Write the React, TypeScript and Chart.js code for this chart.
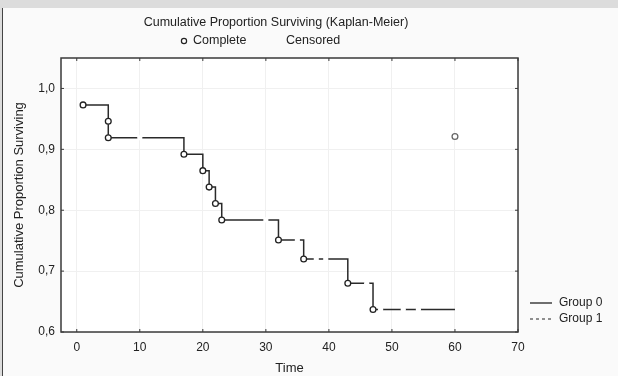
import React, { useEffect, useRef } from "react";
import { Chart, registerables } from "chart.js";

Chart.register(...registerables);

// Kaplan-Meier step curve (Group 0)
const STEP_TIMES = [1, 5, 5, 17, 20, 21, 22, 23, 32, 36, 43, 47, 60];
const STEP_SURV = [0.973, 0.946, 0.919, 0.892, 0.865, 0.838, 0.811, 0.784, 0.751, 0.72, 0.68, 0.637, 0.637];

// Complete (event) markers
const COMPLETE_TIMES = [1, 5, 5, 17, 20, 21, 22, 23, 32, 36, 43, 47];
const COMPLETE_SURV = [0.973, 0.946, 0.919, 0.892, 0.865, 0.838, 0.811, 0.784, 0.751, 0.72, 0.68, 0.637];

// Censored markers (drawn white)
const CENSORED_TIMES = [10, 30, 35, 38, 39.5, 46, 48.2, 51.8, 54.2];
const CENSORED_SURV = [0.919, 0.784, 0.751, 0.72, 0.72, 0.68, 0.637, 0.637, 0.637];

// Group 1
const GROUP1_TIMES = [60];
const GROUP1_SURV = [0.921];

const X_TICKS = [0, 10, 20, 30, 40, 50, 60, 70];
const Y_TICKS = [0.6, 0.7, 0.8, 0.9, 1.0];

const TITLE = "Cumulative Proportion Surviving (Kaplan-Meier)";
const FONT = "'Liberation Sans', Arial, sans-serif";

const zip = (xs: number[], ys: number[]) => xs.map((x, i) => ({ x, y: ys[i] }));

const decorPlugin = {
  id: "decor",
  beforeDraw(chart: any) {
    const { ctx, chartArea: a } = chart;
    ctx.save();
    ctx.fillStyle = "#ffffff";
    ctx.fillRect(a.left, a.top, a.right - a.left, a.bottom - a.top);
    ctx.restore();
  },
  afterDatasetsDraw(chart: any) {
    const { ctx, chartArea: a, scales } = chart;
    ctx.save();
    // frame
    ctx.strokeStyle = "#3a3a3a";
    ctx.lineWidth = 1.5;
    ctx.strokeRect(a.left, a.top, a.right - a.left, a.bottom - a.top);
    // inward ticks
    ctx.lineWidth = 1;
    ctx.beginPath();
    X_TICKS.forEach((v) => {
      const px = scales.x.getPixelForValue(v);
      ctx.moveTo(px, a.bottom);
      ctx.lineTo(px, a.bottom - 3);
      ctx.moveTo(px, a.top);
      ctx.lineTo(px, a.top + 3);
    });
    Y_TICKS.forEach((v) => {
      const py = scales.y.getPixelForValue(v);
      ctx.moveTo(a.left, py);
      ctx.lineTo(a.left + 3, py);
      ctx.moveTo(a.right, py);
      ctx.lineTo(a.right - 3, py);
    });
    ctx.stroke();

    // title
    ctx.fillStyle = "#222";
    ctx.font = `12.5px ${FONT}`;
    ctx.textAlign = "center";
    ctx.textBaseline = "middle";
    ctx.fillText(TITLE, 276, 23);

    // top legend
    ctx.textAlign = "left";
    ctx.beginPath();
    ctx.arc(184, 41, 2.6, 0, Math.PI * 2);
    ctx.fillStyle = "#fff";
    ctx.fill();
    ctx.strokeStyle = "#222";
    ctx.lineWidth = 1.2;
    ctx.stroke();
    ctx.fillStyle = "#222";
    ctx.fillText("Complete", 193, 41);
    ctx.fillText("Censored", 286, 41);

    // right legend
    ctx.font = `12px ${FONT}`;
    ctx.strokeStyle = "#222";
    ctx.lineWidth = 1.3;
    ctx.beginPath();
    ctx.moveTo(530, 303);
    ctx.lineTo(552, 303);
    ctx.stroke();
    ctx.setLineDash([3, 3]);
    ctx.strokeStyle = "#555";
    ctx.beginPath();
    ctx.moveTo(530, 319);
    ctx.lineTo(552, 319);
    ctx.stroke();
    ctx.setLineDash([]);
    ctx.fillText("Group 0", 559, 303);
    ctx.fillText("Group 1", 559, 319);
    ctx.restore();
  },
};

export default function App() {
  const ref = useRef<HTMLCanvasElement | null>(null);

  useEffect(() => {
    if (!ref.current) return;
    const chart = new Chart(ref.current, {
      type: "scatter",
      data: {
        datasets: [
          {
            label: "Group 0",
            data: zip(STEP_TIMES, STEP_SURV),
            showLine: true,
            stepped: "before",
            borderColor: "#2a2a2a",
            borderWidth: 1.5,
            pointRadius: 0,
            order: 3,
          },
          {
            label: "Censored",
            data: zip(CENSORED_TIMES, CENSORED_SURV),
            pointRadius: 2.6,
            pointBackgroundColor: "#ffffff",
            pointBorderWidth: 0,
            pointBorderColor: "#ffffff",
            order: 2,
          },
          {
            label: "Complete",
            data: zip(COMPLETE_TIMES, COMPLETE_SURV),
            pointRadius: 2.9,
            pointBackgroundColor: "#ffffff",
            pointBorderColor: "#222",
            pointBorderWidth: 1.3,
            order: 1,
          },
          {
            label: "Group 1",
            data: zip(GROUP1_TIMES, GROUP1_SURV),
            pointRadius: 2.9,
            pointBackgroundColor: "#ffffff",
            pointBorderColor: "#666",
            pointBorderWidth: 1.3,
            borderDash: [4, 3],
            order: 1,
          },
        ],
      },
      options: {
        animation: false,
        responsive: false,
        maintainAspectRatio: false,
        layout: { padding: { left: 0, top: 58, right: 100, bottom: 0 } },
        plugins: {
          legend: { display: false },
          title: { display: false },
          tooltip: { enabled: false },
        },
        scales: {
          x: {
            type: "linear",
            min: -2.5,
            max: 70,
            afterBuildTicks: (s: any) => {
              s.ticks = X_TICKS.map((v) => ({ value: v }));
            },
            afterFit: (s: any) => {
              s.height = 44;
            },
            grid: { color: "#f0f0f0", drawTicks: false, lineWidth: 1 },
            border: { display: false },
            ticks: {
              color: "#222",
              font: { family: FONT, size: 12 },
              padding: 8,
              maxRotation: 0,
            },
            title: {
              display: true,
              text: "Time",
              color: "#222",
              font: { family: FONT, size: 13 },
              padding: { top: 1, bottom: 0 },
            },
          },
          y: {
            type: "linear",
            min: 0.6,
            max: 1.05,
            afterBuildTicks: (s: any) => {
              s.ticks = Y_TICKS.map((v) => ({ value: v }));
            },
            afterFit: (s: any) => {
              s.width = 61;
            },
            grid: { color: "#f0f0f0", drawTicks: false, lineWidth: 1 },
            border: { display: false },
            ticks: {
              color: "#222",
              font: { family: FONT, size: 12 },
              padding: 6,
              callback: (v: any) => Number(v).toFixed(1).replace(".", ","),
            },
            title: {
              display: true,
              text: "Cumulative Proportion Surviving",
              color: "#222",
              font: { family: FONT, size: 13 },
              padding: { top: 12, bottom: 0 },
            },
          },
        },
      },
      plugins: [decorPlugin],
    });
    return () => chart.destroy();
  }, []);

  return (
    <div
      style={{
        position: "fixed",
        left: 0,
        top: 0,
        width: 618,
        height: 376,
        background: "#dcdcdc",
        overflow: "hidden",
      }}
    >
      <div
        style={{
          position: "absolute",
          left: 0,
          top: 8,
          width: 618,
          height: 368,
          background: "#fafafa",
          borderLeft: "1.5px solid #444",
          boxSizing: "border-box",
          marginLeft: 1.5,
        }}
      />
      <canvas
        ref={ref}
        width={618}
        height={376}
        style={{ position: "absolute", left: 0, top: 0, width: 618, height: 376 }}
      />
    </div>
  );
}
